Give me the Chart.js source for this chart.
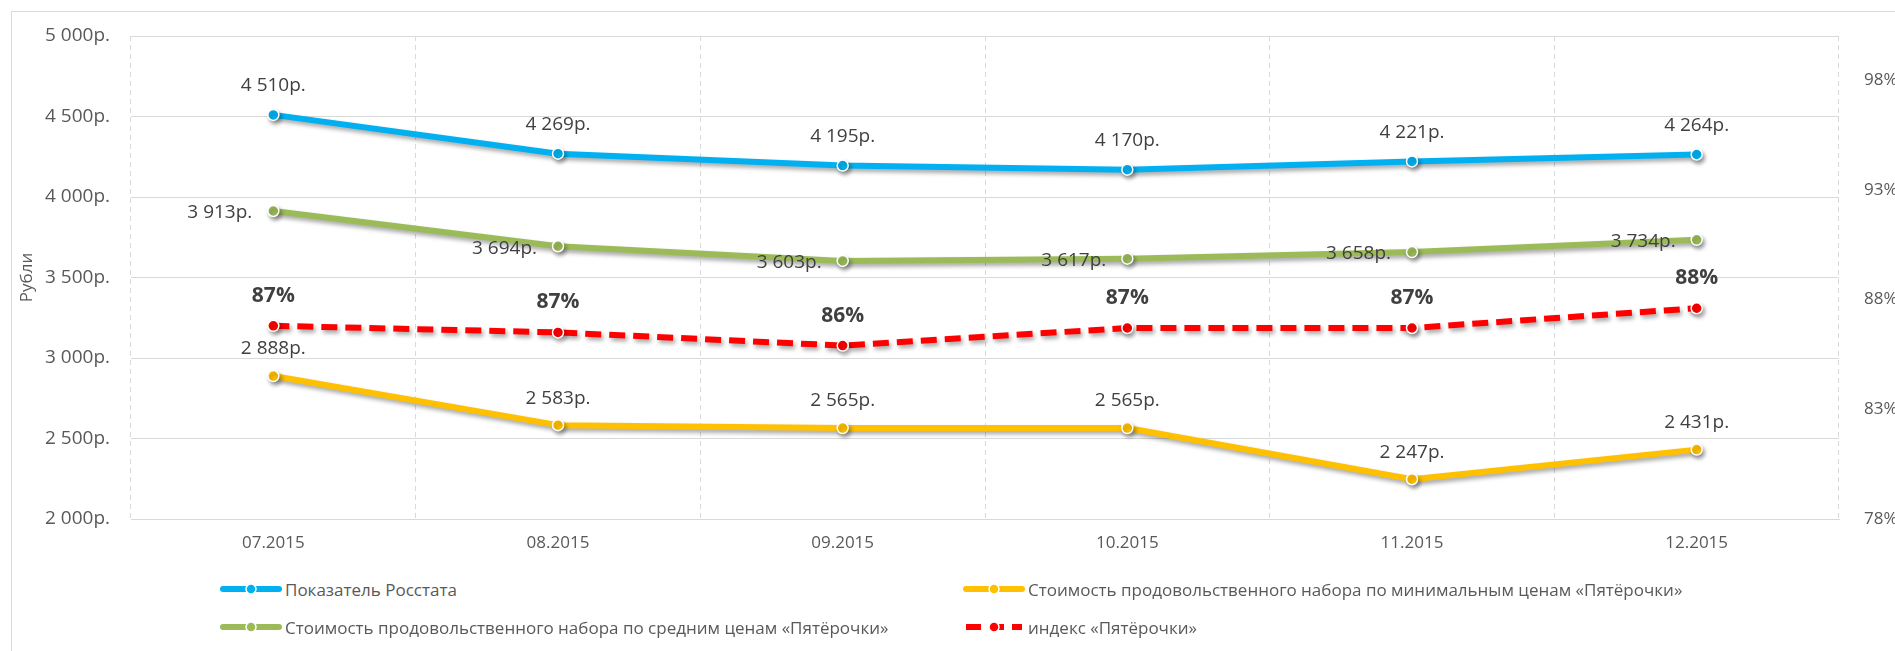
<!DOCTYPE html>
<html lang="ru">
<head>
<meta charset="utf-8">
<title>Стоимость продовольственного набора</title>
<script src="https://cdn.jsdelivr.net/npm/chart.js@4.4.1/dist/chart.umd.min.js"></script>
<style>
  html, body { margin: 0; padding: 0; background: #fff; overflow: hidden; }
  body { width: 1895px; height: 651px; position: relative; font-family: "Open Sans", sans-serif; }
  .frame { position: absolute; left: 11px; top: 11px; width: 1900px; height: 700px; border: 1px solid #d9d9d9; }
  .jsGraphContainer { position: absolute; left: 0; top: 0; width: 1895px; height: 565px; }
  .jsLegend { position: absolute; left: 220px; top: 570px; display: grid; grid-template-columns: 743px auto; }
  .jsLegend .item { display: flex; align-items: center; height: 38px; font-size: 17px; color: #595959; white-space: nowrap; }
  .jsLegend canvas { margin-right: 3px; }
</style>
</head>
<body>
<div class="frame"></div>
<div class="jsGraphContainer"><canvas id="graph"></canvas></div>
<div class="jsLegend"></div>
<script>
  const categories = ["07.2015", "08.2015", "09.2015", "10.2015", "11.2015", "12.2015"];

  // рубли
  const rosstat = [4510, 4269, 4195, 4170, 4221, 4264];
  const minPrice = [2888, 2583, 2565, 2565, 2247, 2431];
  const avgPrice = [3913, 3694, 3603, 3617, 3658, 3734];
  // проценты, правая ось
  const index = [86.8, 86.5, 85.9, 86.7, 86.7, 87.6];
  const pctTicks = [78, 83, 88, 93, 98];

  const FONT = "'Open Sans', sans-serif";
  Chart.defaults.font.family = FONT;
  Chart.defaults.color = "#595959";

  const rub = (v) => {
    const t = Math.floor(v / 1000);
    const r = String(Math.round(v % 1000)).padStart(3, "0");
    return t + " " + r + "р.";
  };

  // excel-like shadow under the lines
  const lineShadow = {
    id: "lineShadow",
    beforeDatasetDraw(chart) {
      const ctx = chart.ctx;
      ctx.save();
      ctx.shadowColor = "rgba(0, 0, 0, 0.35)";
      ctx.shadowBlur = 4;
      ctx.shadowOffsetX = 2;
      ctx.shadowOffsetY = 3;
    },
    afterDatasetDraw(chart) {
      chart.ctx.restore();
    },
  };

  const pointLabels = {
    id: "pointLabels",
    afterDatasetsDraw(chart) {
      const ctx = chart.ctx;
      chart.data.datasets.forEach((ds, i) => {
        const meta = chart.getDatasetMeta(i);
        ctx.save();
        ctx.fillStyle = "#404040";
        ctx.textBaseline = "middle";
        const isPct = ds.yAxisID === "y1";
        ctx.font = isPct ? "bold 21px " + FONT : "19px " + FONT;
        meta.data.forEach((pt, j) => {
          const v = ds.data[j];
          const text = isPct ? Math.round(v) + "%" : rub(v);
          if (ds.labelPos === "left") {
            ctx.textAlign = "right";
            ctx.fillText(text, pt.x - 21, pt.y + 2);
          } else {
            ctx.textAlign = "center";
            ctx.fillText(text, pt.x, pt.y - ds.labelOffset);
          }
        });
        ctx.restore();
      });
    },
  };

  const lineStyle = (color) => ({
    borderColor: color,
    backgroundColor: color,
    pointBackgroundColor: color,
    pointBorderColor: "#fff",
    pointBorderWidth: 1.5,
    pointRadius: 5.5,
    borderWidth: 6,
    tension: 0,
    fill: false,
    borderCapStyle: "round",
    borderJoinStyle: "round",
  });

  let chart_element = document.getElementById("graph").getContext("2d");

  let trafficChart = new Chart(chart_element, {
    type: "line",
    data: {
      labels: categories,
      datasets: [
        Object.assign({ label: "Показатель Росстата", data: rosstat, yAxisID: "y", labelPos: "top", labelOffset: 29 }, lineStyle("#00b0f0")),
        Object.assign({ label: "Стоимость продовольственного набора по минимальным ценам «Пятёрочки»", data: minPrice, yAxisID: "y", labelPos: "top", labelOffset: 27 }, lineStyle("#ffc000")),
        Object.assign({ label: "Стоимость продовольственного набора по средним ценам «Пятёрочки»", data: avgPrice, yAxisID: "y", labelPos: "left" }, lineStyle("#9bbb59")),
        Object.assign({ label: "индекс «Пятёрочки»", data: index, yAxisID: "y1", labelPos: "top", labelOffset: 30, borderDash: [16, 8] }, lineStyle("#ff0000"), { borderCapStyle: "butt" }),
      ],
    },
    options: {
      responsive: true,
      maintainAspectRatio: false,
      animation: false,
      layout: { padding: { top: 36, left: 0, right: 0, bottom: 0 } },
      plugins: {
        legend: { display: false },
        tooltip: { enabled: false },
      },
      scales: {
        x: {
          type: "category",
          offset: true,
          grid: { offset: true, color: "#d9d9d9", drawTicks: false },
          border: { display: true, color: "#d9d9d9", dash: [5, 4] },
          ticks: { color: "#595959", font: { size: 17 }, padding: 14, maxRotation: 0 },
          afterFit(scale) { scale.height = 46; },
        },
        y: {
          position: "left",
          min: 2000,
          max: 5000,
          grid: { color: "#d9d9d9", drawTicks: false },
          border: { display: false },
          ticks: { stepSize: 500, padding: 21, font: { size: 19 }, callback: (v) => rub(v) },
          title: { display: true, text: "Рубли", font: { size: 17 }, padding: { top: 17, bottom: 0 } },
          afterFit(scale) { scale.width = 131; },
        },
        y1: {
          position: "right",
          min: 78,
          max: 100,
          grid: { display: false },
          border: { display: false },
          afterBuildTicks(scale) { scale.ticks = pctTicks.map((v) => ({ value: v })); },
          ticks: { padding: 17, font: { size: 17 }, callback: (v) => v + "%" },
          afterFit(scale) { scale.width = 56; },
        },
      },
    },
    plugins: [lineShadow, pointLabels],
  });

  // legend in two columns, like the excel one
  const legendEl = document.querySelector(".jsLegend");
  trafficChart.data.datasets.forEach((ds) => {
    const item = document.createElement("div");
    item.className = "item";
    const sym = document.createElement("canvas");
    sym.width = 62;
    sym.height = 14;
    const c = sym.getContext("2d");
    c.strokeStyle = ds.borderColor;
    c.lineWidth = 6;
    c.lineCap = ds.borderDash ? "butt" : "round";
    c.setLineDash(ds.borderDash ? [15, 8] : []);
    c.beginPath();
    c.moveTo(3, 7);
    c.lineTo(59, 7);
    c.stroke();
    c.setLineDash([]);
    c.beginPath();
    c.arc(31, 7, 5, 0, Math.PI * 2);
    c.fillStyle = ds.borderColor;
    c.fill();
    c.lineWidth = 1.5;
    c.strokeStyle = "#fff";
    c.stroke();
    item.appendChild(sym);
    const txt = document.createElement("span");
    txt.textContent = ds.label;
    item.appendChild(txt);
    legendEl.appendChild(item);
  });
</script>
</body>
</html>
